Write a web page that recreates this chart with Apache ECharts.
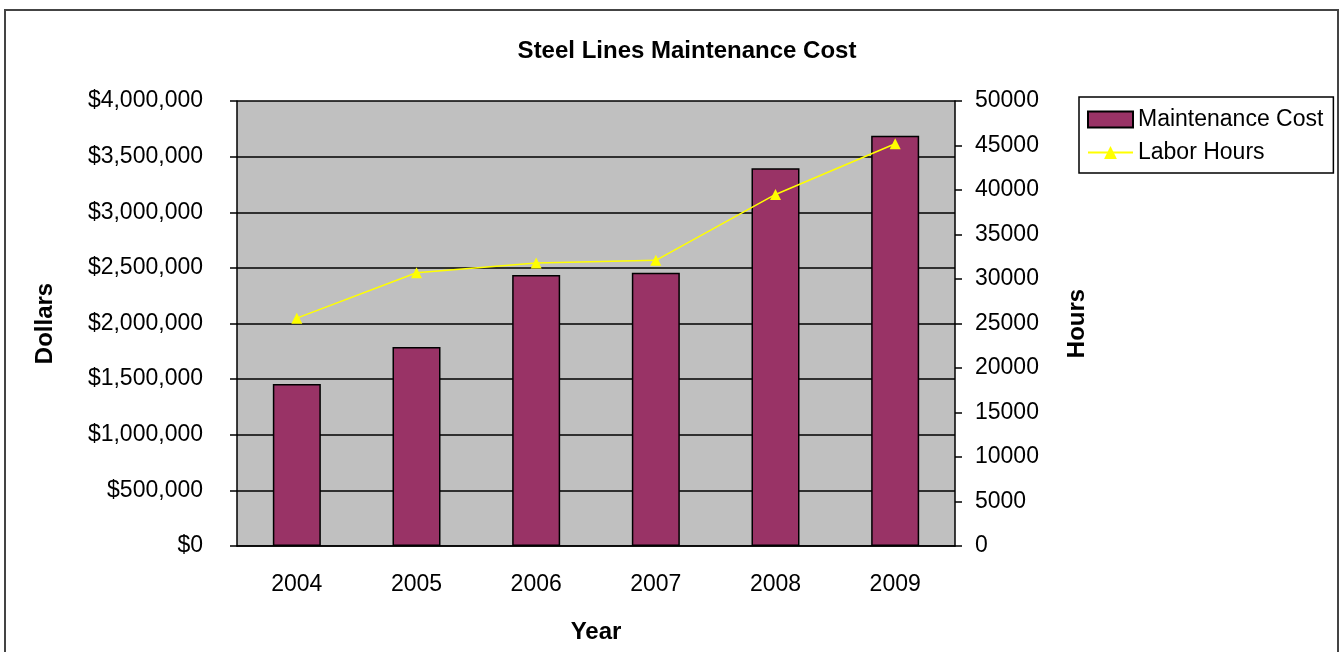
<!DOCTYPE html>
<html><head><meta charset="utf-8">
<script src="https://cdn.jsdelivr.net/npm/echarts@6/dist/echarts.min.js"></script>
<style>html,body{margin:0;padding:0;background:#fff;}#c{width:1340px;height:652px;}</style>
</head><body><div id="c"></div>
<script>
const years = ['2004','2005','2006','2007','2008','2009'];
const maintenanceCost = [1456000, 1789000, 2436000, 2457000, 3395000, 3688000];
const laborHours = [25600, 30700, 31800, 32100, 39500, 45200];
const FONT = 'Liberation Sans, Arial, sans-serif';

const chart = echarts.init(document.getElementById('c'), null, {renderer:'canvas'});
chart.setOption({
  animation:false,
  backgroundColor:'#fff',
  title:{text:'Steel Lines Maintenance Cost', left:682, top:34, textAlign:'center',
    textStyle:{fontFamily:FONT,fontSize:24,fontWeight:'bold',color:'#000'}},
  graphic:[{type:'rect', shape:{x:5,y:10,width:1333,height:660}, style:{fill:'none',stroke:'#444',lineWidth:2}, silent:true}],
  legend:{left:1079, top:97, width:256, orient:'vertical', itemGap:10, padding:[11,10,9,8],
    borderColor:'#000', borderWidth:1.5, itemWidth:45, itemHeight:16,
    textStyle:{fontFamily:FONT,fontSize:23,color:'#000'},
    data:[{name:'Maintenance Cost', icon:'rect'},{name:'Labor Hours'}]},
  grid:{left:237, right:385, top:101, bottom:106, show:true, backgroundColor:'#C0C0C0', borderWidth:0, outerBoundsMode:'none', containLabel:false},
  xAxis:{type:'category', data:years, name:'Year', nameLocation:'middle', nameGap:74,
    nameTextStyle:{fontFamily:FONT,fontSize:24,fontWeight:'bold',color:'#000'},
    axisLine:{lineStyle:{color:'#000',width:1.5}},
    axisTick:{length:7, lineStyle:{color:'#000',width:1.5}},
    axisLabel:{fontFamily:FONT,fontSize:23,color:'#000',margin:27}},
  yAxis:[{type:'value', min:0, max:4000000, interval:500000, name:'Dollars', nameLocation:'middle', nameGap:180, nameRotate:90,
    nameTextStyle:{fontFamily:FONT,fontSize:24,fontWeight:'bold',color:'#000'},
    axisLine:{show:true,lineStyle:{color:'#000',width:1.5}},
    axisTick:{show:true,length:7,lineStyle:{color:'#000',width:1.5}},
    splitLine:{lineStyle:{color:'#000',width:1.5}},
    axisLabel:{fontFamily:FONT,fontSize:23,color:'#000',margin:34,padding:[4,0,0,0],
      formatter:v=>'$'+v.toLocaleString('en-US')}},
   {type:'value', min:0, max:50000, interval:5000, name:'Hours', nameLocation:'middle', nameGap:110, nameRotate:90,
    nameTextStyle:{fontFamily:FONT,fontSize:24,fontWeight:'bold',color:'#000'},
    axisLine:{show:true,lineStyle:{color:'#000',width:1.5}},
    axisTick:{show:true,length:7,lineStyle:{color:'#000',width:1.5}},
    splitLine:{show:false},
    axisLabel:{fontFamily:FONT,fontSize:23,color:'#000',margin:20,padding:[4,0,0,0], formatter:v=>String(v)}}],
  series:[
    {name:'Maintenance Cost', type:'bar', data:maintenanceCost, barWidth:48, yAxisIndex:0,
     itemStyle:{color:'#993366', borderColor:'#000', borderWidth:1.5}},
    {name:'Labor Hours', type:'line', data:laborHours, yAxisIndex:1, symbol:'triangle', symbolSize:11,
     lineStyle:{color:'#FFFF00',width:1.5}, itemStyle:{color:'#FFFF00'}}
  ]
});
</script></body></html>
